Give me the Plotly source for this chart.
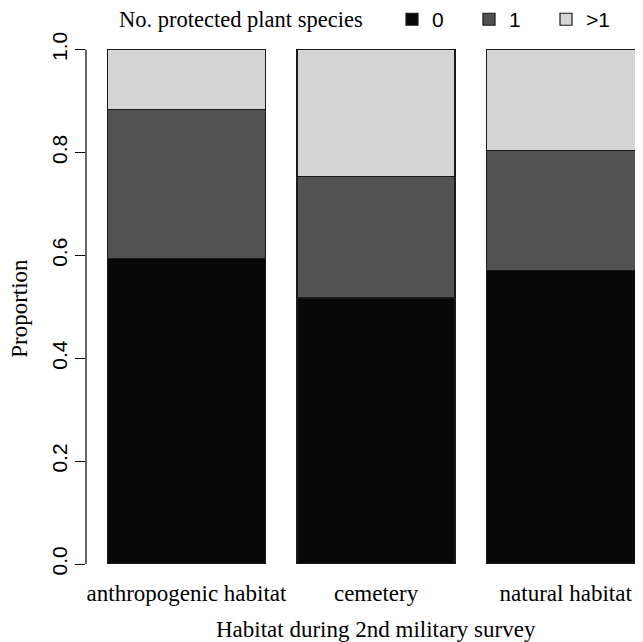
import plotly.graph_objects as go

categories = ["anthropogenic habitat", "cemetery", "natural habitat"]
series_names = ["0", "1", ">1"]
prop_0 = [0.594, 0.517, 0.570]
prop_1 = [0.289, 0.236, 0.234]
prop_gt1 = [0.117, 0.247, 0.196]
y_ticks = [0.0, 0.2, 0.4, 0.6, 0.8, 1.0]
y_tick_labels = ["0.0", "0.2", "0.4", "0.6", "0.8", "1.0"]

colors = ["#080808", "#525252", "#d5d5d5"]
# R barplot positions: width 1, space 0.2
x_pos = [0.7 + 1.2 * i for i in range(len(categories))]

fig = go.Figure()
for name, vals, col in zip(series_names, [prop_0, prop_1, prop_gt1], colors):
    fig.add_trace(go.Bar(
        x=x_pos, y=vals, name=name, width=1.0,
        marker=dict(color=col, line=dict(color="#1a1a1a", width=1.2)),
    ))

serif = "Liberation Serif, Times New Roman, serif"
sans = "Liberation Sans, Arial, sans-serif"

# page body adds an 8px margin; positions below are in figure pixels
W, H = 627, 634
L, T, B = 78, 21.4, 78
PW = W - L
PH = H - T - B
bottom_px = H - B


def py(fig_y):
    return (bottom_px - fig_y) / PH


def px(fig_x):
    return (fig_x - L) / PW


fig.update_layout(
    width=W, height=H,
    barmode="stack",
    plot_bgcolor="white", paper_bgcolor="white",
    margin=dict(l=L, r=0, t=T, b=B, autoexpand=False),
    showlegend=True,
    legend=dict(
        orientation="h",
        x=px(384), xanchor="left",
        y=py(12), yanchor="middle",
        font=dict(family=sans, size=21, color="black"),
        bgcolor="rgba(0,0,0,0)",
        traceorder="normal",
        entrywidth=32,
    ),
    xaxis=dict(
        range=[0.064, 0.064 + PW / 158],
        tickvals=x_pos, ticktext=categories,
        showline=False, ticks="", showgrid=False, zeroline=False,
        automargin=False, ticklabelstandoff=13,
        tickfont=dict(family=serif, size=23, color="black"),
    ),
    yaxis=dict(
        range=[0, 1.04],
        tickvals=y_ticks, ticktext=y_tick_labels,
        tickangle=-90,
        ticks="outside", ticklen=10, tickcolor="black", tickwidth=1.2,
        showline=False, showgrid=False, zeroline=False,
        automargin=False,
        tickfont=dict(family=sans, size=21, color="black"),
    ),
    annotations=[
        dict(text="Habitat during 2nd military survey", xref="paper", yref="paper",
             x=px(367.5), y=py(621), xanchor="center", yanchor="middle",
             showarrow=False, font=dict(family=serif, size=23, color="black")),
        dict(text="Proportion", xref="paper", yref="paper", textangle=-90,
             x=px(12), y=py(301), xanchor="center", yanchor="middle",
             showarrow=False, font=dict(family=serif, size=23, color="black")),
        dict(text="No. protected plant species", xref="paper", yref="paper",
             x=px(109), y=py(12), xanchor="left", yanchor="middle",
             showarrow=False, font=dict(family=serif, size=22.5, color="black")),
    ],
)
# R-style y axis line spanning only 0..1
fig.add_shape(type="line", xref="paper", yref="y", x0=0, x1=0, y0=0, y1=1,
              line=dict(color="black", width=1.2))

fig.write_html("out.html")
